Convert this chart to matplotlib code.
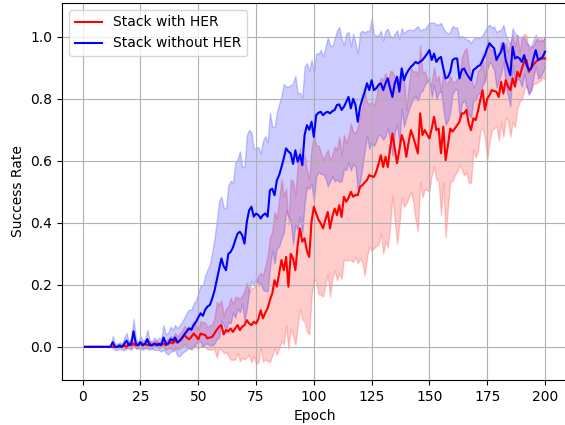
import numpy as np
import matplotlib
matplotlib.use('Agg')
from matplotlib import pyplot as plt

epochs = np.arange(1, 201)

# mean success rate, Stack without HER (epochs 1..200)
blue_mean = [
  0, 0, 0, 0, 0, 0, 0, 0, 0, 0,
  0, 0, 0.015, 0, 0, 0.005, 0, 0.01, 0.02, 0.005,
  0.01, 0.05, 0.01, 0.005, 0.015, 0.005, 0.01, 0.025, 0.005, 0.005,
  0.01, 0.005, 0.01, 0.005, 0.03, 0.01, 0.01, 0.025, 0.02, 0.03,
  0.015, 0.02, 0.03, 0.04, 0.05, 0.06, 0.055, 0.07, 0.08, 0.095,
  0.108, 0.10, 0.12, 0.13, 0.135, 0.155, 0.18, 0.215, 0.25, 0.285,
  0.26, 0.247, 0.30, 0.306, 0.32, 0.344, 0.365, 0.371, 0.36, 0.333,
  0.403, 0.44, 0.452, 0.42, 0.43, 0.425, 0.414, 0.425, 0.43, 0.42,
  0.505, 0.51, 0.489, 0.537, 0.554, 0.58, 0.608, 0.64, 0.63, 0.624,
  0.59, 0.634, 0.597, 0.62, 0.586, 0.683, 0.715, 0.70, 0.726, 0.677,
  0.747, 0.755, 0.758, 0.747, 0.755, 0.758, 0.753, 0.76, 0.764, 0.78,
  0.782, 0.764, 0.774, 0.79, 0.806, 0.769, 0.80, 0.78, 0.726, 0.774,
  0.80, 0.823, 0.85, 0.828, 0.86, 0.828, 0.834, 0.845, 0.85, 0.828,
  0.85, 0.866, 0.834, 0.806, 0.85, 0.871, 0.823, 0.898, 0.86, 0.88,
  0.893, 0.903, 0.91, 0.919, 0.914, 0.92, 0.925, 0.935, 0.945, 0.957,
  0.925, 0.946, 0.919, 0.93, 0.935, 0.898, 0.866, 0.87, 0.887, 0.925,
  0.93, 0.93, 0.866, 0.893, 0.898, 0.882, 0.87, 0.86, 0.893, 0.898,
  0.905, 0.909, 0.925, 0.94, 0.963, 0.979, 0.97, 0.963, 0.925, 0.94,
  0.952, 0.979, 0.925, 0.90, 0.876, 0.968, 0.93, 0.935, 0.93, 0.919,
  0.941, 0.91, 0.893, 0.898, 0.93, 0.957, 0.925, 0.93, 0.935, 0.952,
]
blue_std = [
  0, 0, 0, 0, 0, 0, 0, 0, 0, 0,
  0, 0, 0.02, 0.01, 0.01, 0.01, 0.01, 0.02, 0.025, 0.01,
  0.02, 0.04, 0.015, 0.01, 0.02, 0.015, 0.015, 0.03, 0.015, 0.01,
  0.02, 0.015, 0.02, 0.02, 0.04, 0.03, 0.035, 0.04, 0.035, 0.04,
  0.045, 0.05, 0.05, 0.055, 0.06, 0.06, 0.065, 0.07, 0.07, 0.08,
  0.09, 0.10, 0.11, 0.12, 0.13, 0.15, 0.17, 0.19, 0.22, 0.20,
  0.19, 0.20, 0.22, 0.23, 0.21, 0.25, 0.24, 0.26, 0.22, 0.25,
  0.28, 0.26, 0.24, 0.22, 0.21, 0.22, 0.21, 0.24, 0.25, 0.24,
  0.25, 0.20, 0.22, 0.22, 0.23, 0.23, 0.24, 0.20, 0.21, 0.22,
  0.26, 0.24, 0.22, 0.20, 0.22, 0.22, 0.20, 0.19, 0.20, 0.21,
  0.20, 0.19, 0.20, 0.19, 0.21, 0.24, 0.22, 0.21, 0.23, 0.24,
  0.25, 0.23, 0.20, 0.22, 0.21, 0.20, 0.21, 0.20, 0.22, 0.24,
  0.22, 0.19, 0.17, 0.19, 0.20, 0.18, 0.17, 0.16, 0.17, 0.16,
  0.17, 0.16, 0.17, 0.19, 0.16, 0.15, 0.17, 0.13, 0.15, 0.14,
  0.13, 0.12, 0.11, 0.11, 0.12, 0.10, 0.10, 0.09, 0.09, 0.09,
  0.12, 0.10, 0.12, 0.11, 0.11, 0.13, 0.15, 0.14, 0.13, 0.11,
  0.10, 0.10, 0.13, 0.11, 0.10, 0.11, 0.12, 0.12, 0.10, 0.10,
  0.09, 0.09, 0.08, 0.08, 0.07, 0.06, 0.06, 0.07, 0.09, 0.08,
  0.07, 0.06, 0.08, 0.09, 0.10, 0.06, 0.08, 0.07, 0.07, 0.08,
  0.06, 0.07, 0.08, 0.07, 0.06, 0.05, 0.06, 0.06, 0.05, 0.05,
]

# mean success rate, Stack with HER
red_mean = [
  0, 0, 0, 0, 0, 0, 0, 0, 0, 0,
  0, 0, 0, 0, 0, 0, 0, 0.005, 0, 0.01,
  0.005, 0.01, 0.005, 0.005, 0.01, 0.005, 0.01, 0.005, 0.01, 0.005,
  0.01, 0.01, 0.005, 0.01, 0.01, 0.005, 0.01, 0.015, 0.011, 0.02,
  0.013, 0.02, 0.027, 0.038, 0.03, 0.024, 0.032, 0.043, 0.035, 0.024,
  0.043, 0.04, 0.038, 0.027, 0.03, 0.032, 0.043, 0.055, 0.065, 0.07,
  0.04, 0.054, 0.05, 0.059, 0.048, 0.06, 0.07, 0.054, 0.065, 0.07,
  0.086, 0.075, 0.07, 0.081, 0.075, 0.09, 0.118, 0.092, 0.11, 0.124,
  0.151, 0.172, 0.215, 0.194, 0.237, 0.28, 0.247, 0.29, 0.194, 0.30,
  0.285, 0.247, 0.328, 0.382, 0.339, 0.35, 0.31, 0.29, 0.403, 0.452,
  0.43, 0.41, 0.398, 0.382, 0.41, 0.435, 0.382, 0.42, 0.446, 0.425,
  0.457, 0.419, 0.484, 0.468, 0.48, 0.50, 0.484, 0.49, 0.489, 0.516,
  0.522, 0.53, 0.538, 0.554, 0.55, 0.548, 0.565, 0.59, 0.618, 0.58,
  0.613, 0.58, 0.64, 0.688, 0.64, 0.592, 0.635, 0.683, 0.661, 0.613,
  0.66, 0.699, 0.677, 0.65, 0.624, 0.753, 0.683, 0.699, 0.685, 0.672,
  0.704, 0.742, 0.699, 0.704, 0.624, 0.71, 0.602, 0.65, 0.704, 0.694,
  0.704, 0.715, 0.726, 0.753, 0.753, 0.764, 0.72, 0.699, 0.737, 0.731,
  0.76, 0.796, 0.828, 0.764, 0.80, 0.812, 0.828, 0.825, 0.823, 0.806,
  0.855, 0.817, 0.86, 0.84, 0.828, 0.866, 0.839, 0.887, 0.871, 0.898,
  0.919, 0.925, 0.887, 0.898, 0.91, 0.919, 0.925, 0.928, 0.93, 0.93,
]
red_std = [
  0, 0, 0, 0, 0, 0, 0, 0, 0, 0,
  0, 0, 0, 0, 0, 0, 0, 0.01, 0.005, 0.01,
  0.01, 0.01, 0.01, 0.01, 0.01, 0.01, 0.01, 0.01, 0.01, 0.01,
  0.01, 0.01, 0.01, 0.01, 0.01, 0.015, 0.015, 0.02, 0.02, 0.025,
  0.02, 0.025, 0.025, 0.03, 0.03, 0.03, 0.035, 0.04, 0.035, 0.03,
  0.04, 0.04, 0.04, 0.035, 0.04, 0.04, 0.05, 0.09, 0.07, 0.08,
  0.06, 0.07, 0.08, 0.10, 0.09, 0.10, 0.09, 0.10, 0.10, 0.11,
  0.12, 0.10, 0.12, 0.11, 0.13, 0.14, 0.12, 0.14, 0.15, 0.17,
  0.20, 0.20, 0.22, 0.22, 0.24, 0.26, 0.24, 0.22, 0.20, 0.24,
  0.25, 0.24, 0.26, 0.26, 0.25, 0.27, 0.26, 0.25, 0.24, 0.23,
  0.22, 0.24, 0.23, 0.22, 0.21, 0.20, 0.22, 0.20, 0.20, 0.21,
  0.22, 0.20, 0.20, 0.19, 0.20, 0.22, 0.21, 0.20, 0.22, 0.23,
  0.25, 0.30, 0.25, 0.23, 0.24, 0.23, 0.24, 0.26, 0.25, 0.28,
  0.27, 0.26, 0.25, 0.20, 0.23, 0.26, 0.24, 0.20, 0.21, 0.15,
  0.18, 0.20, 0.21, 0.24, 0.25, 0.22, 0.20, 0.19, 0.18, 0.17,
  0.15, 0.16, 0.16, 0.17, 0.20, 0.18, 0.25, 0.20, 0.17, 0.16,
  0.15, 0.15, 0.14, 0.18, 0.20, 0.20, 0.19, 0.17, 0.10, 0.12,
  0.13, 0.10, 0.12, 0.09, 0.20, 0.15, 0.13, 0.12, 0.11, 0.14,
  0.13, 0.14, 0.12, 0.11, 0.15, 0.14, 0.13, 0.12, 0.08, 0.10,
  0.09, 0.08, 0.07, 0.07, 0.06, 0.07, 0.07, 0.07, 0.06, 0.07,
]

if __name__ == '__main__':
  fig = plt.figure(figsize=(5.65, 4.25), dpi=100)
  ax = fig.add_axes([62/565, 45/425, 506/565, 377/425])

  for mean, std, col, lbl in [(red_mean, red_std, 'red', 'Stack with HER'),
                              (blue_mean, blue_std, 'blue', 'Stack without HER')]:
    m = np.array(mean)
    s = np.array(std)
    ax.plot(epochs, m, color=col, label=lbl)
    ax.fill_between(epochs, m - s, m + s, color=col, alpha=0.2)

  ax.set_xlim(-8.95, 209.95)
  ax.set_ylim(-0.107, 1.109)
  ax.set_xticks(np.arange(0, 201, 25))
  ax.set_yticks(np.arange(0, 1.01, 0.2))
  ax.grid(True)
  ax.set_xlabel('Epoch')
  ax.set_ylabel('Success Rate')
  ax.legend(loc='upper left')
  plt.savefig('out.png', dpi=100)
